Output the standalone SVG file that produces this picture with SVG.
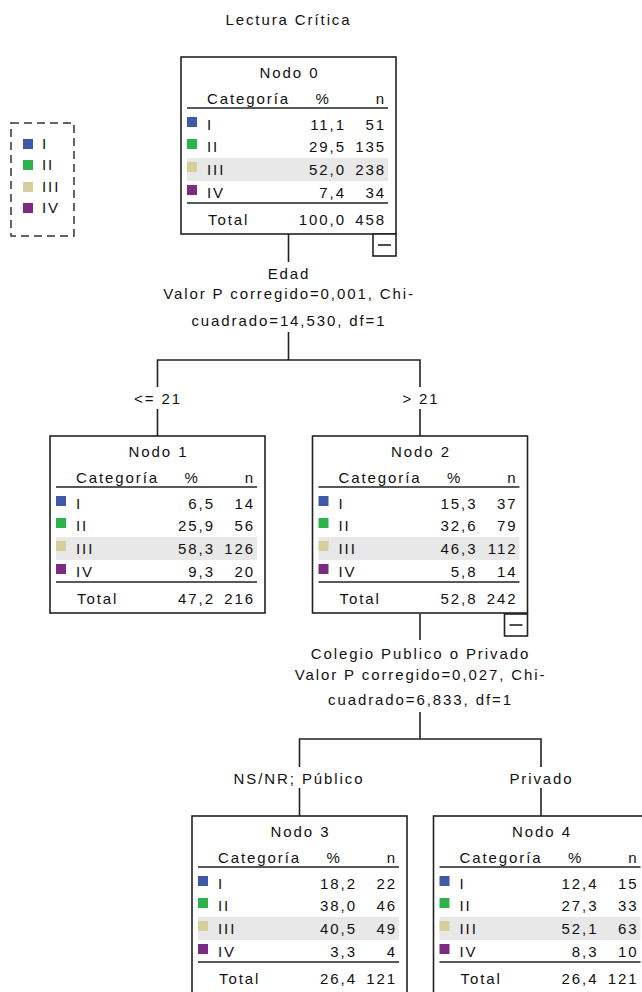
<svg xmlns="http://www.w3.org/2000/svg" width="642" height="992" viewBox="0 0 642 992">
<defs>
<style>
text{font-family:"Liberation Sans",Arial,sans-serif;font-size:15px;letter-spacing:1.9px;fill:#111}
.c{text-anchor:middle}
.e{text-anchor:end}
.box{fill:#fff;stroke:#222;stroke-width:1.6}
.rule{stroke:#222;stroke-width:1.6}
.hl{fill:#e8e8e8}
.s1{fill:#3f58a8}
.s2{fill:#2db34a}
.s3{fill:#d5cf9b}
.s4{fill:#7d2a82}
.conn{stroke:#222;stroke-width:1.6;fill:none}
.mb{fill:#fff;stroke:#222;stroke-width:1.6}
</style>
<g id="tbl">
<rect class="hl" x="6" y="101" width="201" height="23"/>
<line class="rule" x1="6" y1="51" x2="207" y2="51"/>
<line class="rule" x1="6" y1="146" x2="207" y2="146"/>
<rect class="s1" x="6" y="60" width="10" height="10"/>
<rect class="s2" x="6" y="82" width="10" height="10"/>
<rect class="s3" x="6" y="105" width="10" height="10"/>
<rect class="s4" x="6" y="128" width="10" height="10"/>
<text x="26" y="47">Categoría</text>
<text class="c" x="142" y="47">%</text>
<text class="e" x="204.9" y="47">n</text>
<text x="26" y="73">I</text>
<text x="26" y="95">II</text>
<text x="26" y="118">III</text>
<text x="26" y="141">IV</text>
<text x="27" y="168">Total</text>
</g>
</defs>
<text class="c" x="288.5" y="25">Lectura Crítica</text>

<g id="legend">
<rect x="11" y="123" width="63" height="113" fill="none" stroke="#333" stroke-width="1.5" stroke-dasharray="8 5"/>
<rect class="s1" x="23" y="139" width="10" height="10"/>
<rect class="s2" x="23" y="160" width="10" height="10"/>
<rect class="s3" x="23" y="182" width="10" height="10"/>
<rect class="s4" x="23" y="203" width="10" height="10"/>
<text x="42" y="149">I</text>
<text x="42" y="170">II</text>
<text x="42" y="192">III</text>
<text x="42" y="213">IV</text>
</g>

<g id="connectors">
<polyline class="conn" points="288.5,234 288.5,262"/>
<polyline class="conn" points="288.5,332 288.5,360"/>
<polyline class="conn" points="157.5,387 157.5,360 420,360 420,387"/>
<line class="conn" x1="157.5" y1="409" x2="157.5" y2="436"/>
<line class="conn" x1="420" y1="409" x2="420" y2="436"/>
<polyline class="conn" points="420,614 420,640"/>
<polyline class="conn" points="420,712 420,739"/>
<polyline class="conn" points="299.5,767 299.5,739 541,739 541,767"/>
<line class="conn" x1="299.5" y1="788" x2="299.5" y2="816"/>
<line class="conn" x1="541" y1="788" x2="541" y2="816"/>
<text class="c" x="289" y="279">Edad</text>
<text class="c" x="289" y="299">Valor P corregido=0,001, Chi-</text>
<text class="c" x="289" y="326">cuadrado=14,530, df=1</text>
<text class="c" x="158" y="404">&lt;= 21</text>
<text class="c" x="421" y="404">&gt; 21</text>
<text class="c" x="420.5" y="659">Colegio Publico o Privado</text>
<text class="c" x="420.5" y="680">Valor P corregido=0,027, Chi-</text>
<text class="c" x="420.5" y="705">cuadrado=6,833, df=1</text>
<text class="c" x="299" y="784">NS/NR; Público</text>
<text class="c" x="541.5" y="784">Privado</text>
</g>

<g id="node0" transform="translate(181,57)">
<rect class="box" x="0" y="0" width="215" height="177"/>
<use href="#tbl"/>
<text class="c" x="108.5" y="21">Nodo 0</text>
<text class="e" x="164.9" y="73">11,1</text><text class="e" x="204.9" y="73">51</text>
<text class="e" x="164.9" y="95">29,5</text><text class="e" x="204.9" y="95">135</text>
<text class="e" x="164.9" y="118">52,0</text><text class="e" x="204.9" y="118">238</text>
<text class="e" x="164.9" y="141">7,4</text><text class="e" x="204.9" y="141">34</text>
<text class="e" x="164.9" y="168">100,0</text><text class="e" x="204.9" y="168">458</text>
<rect class="mb" x="192" y="177" width="23" height="22"/>
<line class="rule" x1="197" y1="188" x2="210" y2="188"/>
</g>

<g id="node1" transform="translate(50,436)">
<rect class="box" x="0" y="0" width="215" height="177"/>
<use href="#tbl"/>
<text class="c" x="108.5" y="21">Nodo 1</text>
<text class="e" x="164.9" y="73">6,5</text><text class="e" x="204.9" y="73">14</text>
<text class="e" x="164.9" y="95">25,9</text><text class="e" x="204.9" y="95">56</text>
<text class="e" x="164.9" y="118">58,3</text><text class="e" x="204.9" y="118">126</text>
<text class="e" x="164.9" y="141">9,3</text><text class="e" x="204.9" y="141">20</text>
<text class="e" x="164.9" y="168">47,2</text><text class="e" x="204.9" y="168">216</text>
</g>

<g id="node2" transform="translate(312.5,436)">
<rect class="box" x="0" y="0" width="215" height="177"/>
<use href="#tbl"/>
<text class="c" x="108.5" y="21">Nodo 2</text>
<text class="e" x="164.9" y="73">15,3</text><text class="e" x="204.9" y="73">37</text>
<text class="e" x="164.9" y="95">32,6</text><text class="e" x="204.9" y="95">79</text>
<text class="e" x="164.9" y="118">46,3</text><text class="e" x="204.9" y="118">112</text>
<text class="e" x="164.9" y="141">5,8</text><text class="e" x="204.9" y="141">14</text>
<text class="e" x="164.9" y="168">52,8</text><text class="e" x="204.9" y="168">242</text>
<rect class="mb" x="192" y="178" width="23" height="22"/>
<line class="rule" x1="197" y1="189" x2="210" y2="189"/>
</g>

<g id="node3" transform="translate(192,816)">
<rect class="box" x="0" y="0" width="215" height="177"/>
<use href="#tbl"/>
<text class="c" x="108.5" y="21">Nodo 3</text>
<text class="e" x="164.9" y="73">18,2</text><text class="e" x="204.9" y="73">22</text>
<text class="e" x="164.9" y="95">38,0</text><text class="e" x="204.9" y="95">46</text>
<text class="e" x="164.9" y="118">40,5</text><text class="e" x="204.9" y="118">49</text>
<text class="e" x="164.9" y="141">3,3</text><text class="e" x="204.9" y="141">4</text>
<text class="e" x="164.9" y="168">26,4</text><text class="e" x="204.9" y="168">121</text>
</g>

<g id="node4" transform="translate(433.5,816)">
<rect class="box" x="0" y="0" width="215" height="177"/>
<use href="#tbl"/>
<text class="c" x="108.5" y="21">Nodo 4</text>
<text class="e" x="164.9" y="73">12,4</text><text class="e" x="204.9" y="73">15</text>
<text class="e" x="164.9" y="95">27,3</text><text class="e" x="204.9" y="95">33</text>
<text class="e" x="164.9" y="118">52,1</text><text class="e" x="204.9" y="118">63</text>
<text class="e" x="164.9" y="141">8,3</text><text class="e" x="204.9" y="141">10</text>
<text class="e" x="164.9" y="168">26,4</text><text class="e" x="204.9" y="168">121</text>
</g>
</svg>
